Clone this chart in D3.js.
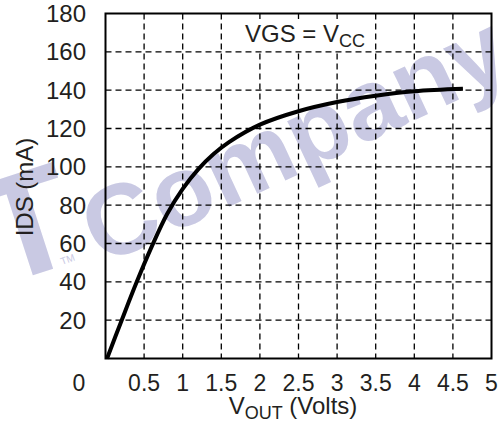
<!DOCTYPE html>
<html>
<head>
<meta charset="utf-8">
<script src="https://cdn.jsdelivr.net/npm/d3@7"></script>
<style>
  body { margin: 0; background: #fff; }
  text { font-family: "Liberation Sans", Arial, sans-serif; fill: #231f20; }
</style>
</head>
<body>
<div id="chart"></div>
<script>
(function () {

  // Curve
  const vout = [0.02, 0.21, 0.40, 0.6, 0.8, 1.0, 1.2, 1.4, 1.6, 2.0, 2.5, 3.0, 3.5, 4.0, 4.63]
  const ids = [0, 20, 39.5, 58.5, 75.5, 88.5, 98.7, 106.7, 112.9, 122, 129, 133.8, 137.1, 139.4, 140.7]

  // Tick labels
  const xTicks = [0.5, 1, 1.5, 2, 2.5, 3, 3.5, 4, 4.5, 5]
  const yTicks = [20, 40, 60, 80, 100, 120, 140, 160, 180]
  const xGrid = [0.5, 1, 1.5, 2, 2.5, 3, 3.5, 4, 4.5]
  const yGrid = [20, 40, 60, 80, 100, 120, 140, 160]

  const width = 504
  const height = 429
  const plot = { left: 105.5, right: 491.5, top: 13.5, bottom: 358.5 }

  const xScale = d3.scaleLinear().domain([0, 5]).range([plot.left, plot.right])
  const yScale = d3.scaleLinear().domain([0, 180]).range([plot.bottom, plot.top])

  const svg = d3.select("#chart").append("svg")
    .attr("width", width)
    .attr("height", height)

  svg.append("rect").attr("width", width).attr("height", height).attr("fill", "#fff")

  // Watermark
  const wm = "#c9c9e3"
  svg.append("text")
    .attr("transform", "translate(43,272) rotate(-18)")
    .attr("text-anchor", "middle")
    .style("font-size", "148px").style("font-weight", "bold").style("fill", wm)
    .text("T")
  svg.append("text")
    .attr("transform", "translate(62,265) rotate(-20)")
    .style("font-size", "10px").style("fill", wm)
    .text("TM")
  svg.append("text")
    .attr("transform", "translate(102,266) rotate(-25)")
    .style("font-size", "100px").style("font-weight", "bold").style("fill", wm)
    .text("Company")

  // Grid
  const grid = svg.append("g")
    .attr("stroke", "#000")
    .attr("stroke-width", 1.3)
    .attr("stroke-dasharray", "6,4")
  grid.selectAll(".vg").data(xGrid).join("line")
    .attr("x1", d => xScale(d)).attr("x2", d => xScale(d))
    .attr("y1", plot.top).attr("y2", plot.bottom)
  grid.selectAll(".hg").data(yGrid).join("line")
    .attr("class", "hg")
    .attr("x1", plot.left).attr("x2", plot.right)
    .attr("y1", d => yScale(d)).attr("y2", d => yScale(d))

  // Annotation with white box
  svg.append("rect")
    .attr("x", 240).attr("y", 19).attr("width", 132).attr("height", 31)
    .attr("fill", "#fff")
  const ann = svg.append("text").attr("x", 245).attr("y", 42).style("font-size", "24px")
  ann.append("tspan").text("VGS = V")
  ann.append("tspan").attr("dy", 5).style("font-size", "18px").text("CC")

  // Curve
  const pts = vout.map((v, i) => [v, ids[i]])
  const line = d3.line()
    .x(d => xScale(d[0]))
    .y(d => yScale(d[1]))
    .curve(d3.curveCatmullRom.alpha(0.5))
  svg.append("path")
    .datum(pts)
    .attr("d", line)
    .attr("fill", "none")
    .attr("stroke", "#000")
    .attr("stroke-width", 4)

  // Frame
  svg.append("rect")
    .attr("x", plot.left).attr("y", plot.top)
    .attr("width", plot.right - plot.left).attr("height", plot.bottom - plot.top)
    .attr("fill", "none").attr("stroke", "#000").attr("stroke-width", 2)

  // Tick labels
  svg.selectAll(".ylab").data(yTicks).join("text")
    .attr("x", 86)
    .attr("y", d => yScale(d) + 8.5)
    .attr("text-anchor", "end")
    .style("font-size", "24px")
    .text(d => d)
  svg.selectAll(".xlab").data(xTicks).join("text")
    .attr("x", d => xScale(d))
    .attr("y", 390.5)
    .attr("text-anchor", "middle")
    .style("font-size", "23px")
    .text(d => d)
  svg.append("text")
    .attr("x", 79).attr("y", 390.5)
    .attr("text-anchor", "middle")
    .style("font-size", "23px")
    .text("0")

  // Axis titles
  const xt = svg.append("text").attr("x", 293).attr("y", 414)
    .attr("text-anchor", "middle").style("font-size", "24px")
  xt.append("tspan").text("V")
  xt.append("tspan").attr("dy", 5).style("font-size", "18px").text("OUT")
  xt.append("tspan").attr("dy", -5).text(" (Volts)")

  svg.append("text")
    .attr("transform", "translate(33,187) rotate(-90)")
    .attr("text-anchor", "middle")
    .style("font-size", "24px")
    .text("IDS (mA)")

})();
</script>
</body>
</html>
